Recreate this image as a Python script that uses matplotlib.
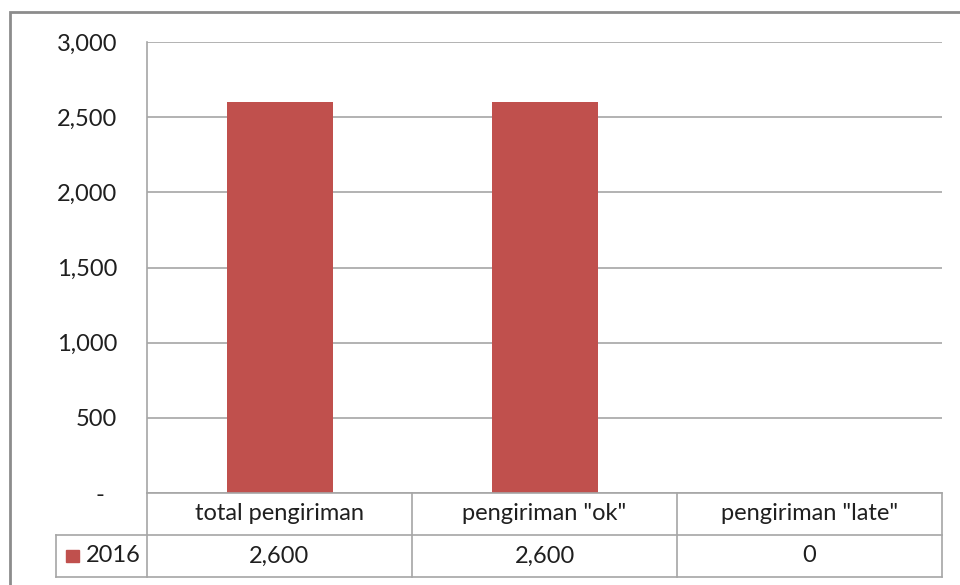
import matplotlib.pyplot as plt
from matplotlib.patches import Rectangle

categories = ['total pengiriman', 'pengiriman "ok"', 'pengiriman "late"']
values_2016 = [2600, 2600, 0]
series_name = '2016'
y_ticks = [0, 500, 1000, 1500, 2000, 2500, 3000]

bar_color = '#C0504D'
line_color = '#A6A6A6'
text_color = '#1F1F1F'
fsize = 17

plt.rcParams['font.family'] = ['Lato', 'DejaVu Sans']

W, H = 960, 585
fig = plt.figure(figsize=(W / 100, H / 100), dpi=100)


def fx(px):
    return px / W


def fy(py):
    return 1 - py / H


# outer chart border (runs off the right and bottom edge)
fig.patches.append(Rectangle((fx(10), fy(600)), fx(1000), fy(12) - fy(600),
                             transform=fig.transFigure, fill=False,
                             edgecolor='#8C8C8C', linewidth=2))

left, right, top, bottom = 147, 942, 42, 493
ax = fig.add_axes([fx(left), fy(bottom), fx(right - left), fy(top) - fy(bottom)])

x = range(len(categories))
ax.bar(x, values_2016, width=0.4, color=bar_color, zorder=3)
ax.set_xlim(-0.5, len(categories) - 0.5)
ax.set_ylim(0, 3000)
ax.set_yticks(y_ticks)
ax.set_yticklabels(['-  ' if v == 0 else f'{v:,}' for v in y_ticks])
ax.yaxis.grid(True, color=line_color, linewidth=1.2)
ax.set_xticks([])
ax.tick_params(axis='y', length=0, pad=21.5, labelsize=fsize, labelcolor=text_color)
for s in ['top', 'right', 'bottom']:
    ax.spines[s].set_visible(False)
ax.spines['left'].set_color(line_color)
ax.spines['left'].set_linewidth(1.2)

# data table below the plot
row1_bottom, row2_bottom = 535, 577
legend_left = 56
col_edges = [left + i * (right - left) / len(categories) for i in range(len(categories) + 1)]


def hline(y, x0, x1):
    fig.add_artist(plt.Line2D([fx(x0), fx(x1)], [fy(y), fy(y)], color=line_color, linewidth=1.2))


def vline(xp, y0, y1):
    fig.add_artist(plt.Line2D([fx(xp), fx(xp)], [fy(y0), fy(y1)], color=line_color, linewidth=1.2))


hline(bottom, left, right)
hline(row1_bottom, legend_left, right)
hline(row2_bottom, legend_left, right)
vline(legend_left, row1_bottom, row2_bottom)
for xp in col_edges:
    vline(xp, bottom, row2_bottom)

for i, cat in enumerate(categories):
    cx = (col_edges[i] + col_edges[i + 1]) / 2
    fig.text(fx(cx), fy((bottom + row1_bottom) / 2), cat, ha='center', va='center',
             fontsize=fsize, color=text_color)
    fig.text(fx(cx), fy((row1_bottom + row2_bottom) / 2), f'{values_2016[i]:,}',
             ha='center', va='center', fontsize=fsize, color=text_color)

mid2 = (row1_bottom + row2_bottom) / 2
fig.patches.append(Rectangle((fx(66), fy(mid2 + 6)), fx(13), fy(mid2 - 6) - fy(mid2 + 6),
                             transform=fig.transFigure, color=bar_color))
fig.text(fx(86), fy(mid2), series_name, ha='left', va='center', fontsize=fsize, color=text_color)

fig.savefig('out.png', dpi=100)
